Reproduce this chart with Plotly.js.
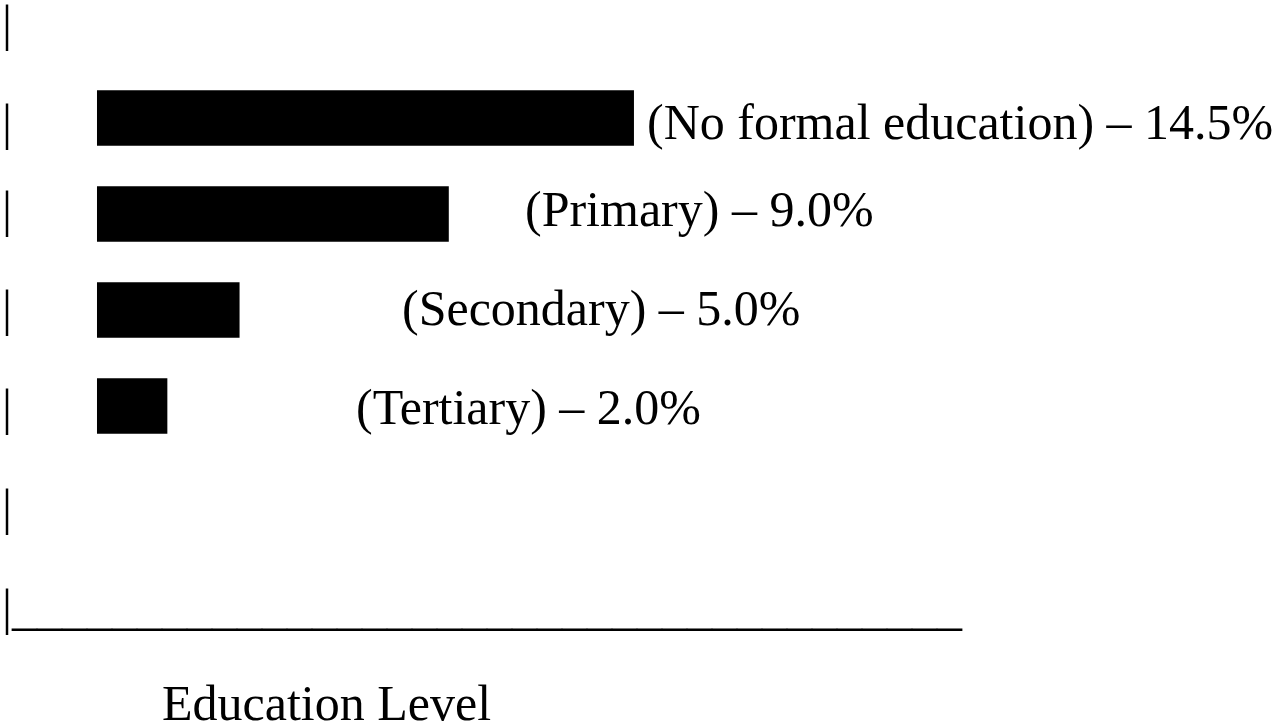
<!DOCTYPE html>
<html>
<head>
<meta charset="utf-8">
<script src="https://cdn.plot.ly/plotly-3.0.1.min.js"></script>
<style>
  html, body { margin: 0; padding: 0; background: #ffffff; }
  #chart { width: 1280px; height: 725px; }
</style>
</head>
<body>
<div id="chart"></div>
<script>
// education levels, top to bottom
var levels = ['No formal education', 'Primary', 'Secondary', 'Tertiary'];
// percentages written next to the bars
var shares = [14.5, 9.0, 5.0, 2.0];
// bar lengths as drawn in the picture (same units as the 14.5% bar)
var barLength = [14.5, 9.5, 3.85, 1.9];
var axisLabel = 'Education Level';

var serif = 'Liberation Serif, Times New Roman, serif';
var textSize = 50;

function textNote(x, y, txt) {
    return {
        xref: 'paper', yref: 'paper',
        x: x / 1280, y: 1 - y / 725,
        xanchor: 'left', yanchor: 'middle',
        text: txt,
        showarrow: false,
        font: { family: serif, size: textSize, color: '#000000' }
    };
}

function loadPlot() {
    var trace = {
        type: 'bar',
        orientation: 'h',
        x: barLength,
        y: levels,
        width: 0.58,
        marker: { color: '#000000', line: { width: 0 } },
        hoverinfo: 'skip'
    };

    // text rows (px from top) of the typed-out chart
    var labelLeft = [645, 523, 400, 354];
    var labelRow = [122, 209, 308, 407];
    var annotations = [];
    for (let i = 0; i < levels.length; i++) {
        annotations.push(textNote(labelLeft[i], labelRow[i],
            '(' + levels[i] + ') – ' + shares[i].toFixed(1) + '%'));
    }

    // the left rule drawn with "|" characters, and the bottom rule with "_"
    var ruleRows = [23, 122, 209, 308, 407, 507];
    for (let r = 0; r < ruleRows.length; r++) {
        annotations.push(textNote(0, ruleRows[r], '|'));
    }
    annotations.push(textNote(0, 607, '|' + '_'.repeat(38)));
    annotations.push(textNote(160, 703, axisLabel));

    var layout = {
        width: 1280,
        height: 725,
        margin: { l: 0, r: 0, t: 0, b: 0, pad: 0 },
        paper_bgcolor: '#ffffff',
        plot_bgcolor: '#ffffff',
        showlegend: false,
        xaxis: {
            visible: false,
            range: [-2.619, 31.945],
            fixedrange: true
        },
        yaxis: {
            visible: false,
            type: 'category',
            categoryarray: levels,
            range: [6.323, -1.229],
            fixedrange: true
        },
        annotations: annotations
    };

    Plotly.newPlot('chart', [trace], layout, { displayModeBar: false, staticPlot: true });
}
loadPlot();
</script>
</body>
</html>
